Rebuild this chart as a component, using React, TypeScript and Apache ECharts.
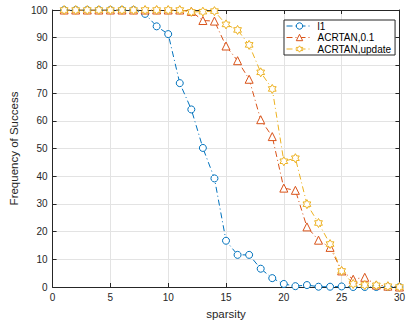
import React, { useEffect, useRef } from "react";
import * as echarts from "echarts";

const sparsity = Array.from({ length: 30 }, (_, i) => i + 1);
const l1 = [100, 100, 100, 100, 100, 100, 100, 98.6, 94.1, 91.3, 73.6, 64.1, 50.2, 39.2, 16.7, 11.6, 11.6, 6.6, 3.2, 1.1, 0.3, 0.7, 0.1, 0.1, 0.2, 0, 0, 0, 0, 0];
const acrtan01 = [100, 100, 100, 100, 100, 100, 100, 100, 100, 100, 100, 99.5, 96.2, 96.0, 87.0, 81.7, 75.0, 60.4, 54.3, 35.7, 34.9, 21.7, 16.9, 14.3, 5.8, 2.8, 3.5, 0.7, 0.3, 0];
const acrtanUpdate = [100, 100, 100, 100, 100, 100, 100, 100, 100, 100, 100, 99.3, 99.4, 99.6, 94.8, 92.8, 87.4, 77.5, 71.5, 45.4, 46.5, 29.9, 23.1, 15.5, 5.8, 1.1, 0.7, 0.6, 0.3, 0];
const xTicks = [0, 5, 10, 15, 20, 25, 30];
const yTicks = [0, 10, 20, 30, 40, 50, 60, 70, 80, 90, 100];

const seriesNames = ["l1", "ACRTAN,0.1", "ACRTAN,update"];
const colors = ["#0072BD", "#D95319", "#EDB120"];

const hexagram =
  "path://M10 0 L12.89 5 L18.66 5 L15.77 10 L18.66 15 L12.89 15 L10 20 L7.11 15 L1.34 15 L4.23 10 L1.34 5 L7.11 5 Z";

export default function App() {
  const ref = useRef<HTMLDivElement>(null);
  useEffect(() => {
    if (!ref.current) return;
    const chart = echarts.init(ref.current, null, { renderer: "svg" });
    const font = "Liberation Sans, Arial, Helvetica, sans-serif";
    const axisColor = "#262626";
    const mk = (name: string, data: number[], color: string, symbol: string, size: number) => ({
      name,
      type: "line",
      data: sparsity.map((x, i) => [x, data[i]]),
      symbol,
      symbolSize: size,
      symbolKeepAspect: true,
      showAllSymbol: true,
      lineStyle: { color, width: 1, type: [6, 3, 1, 3] },
      itemStyle: { color: "#ffffff", borderColor: color, borderWidth: 1 },
      emphasis: { disabled: true },
    });
    chart.setOption({
      animation: false,
      textStyle: { fontFamily: font },
      grid: { left: 50, right: 6, top: 10, bottom: 38, containLabel: false },
      legend: {
        show: true,
        orient: "vertical",
        left: 284,
        top: 20,
        itemWidth: 26,
        itemHeight: 8,
        itemGap: 1.5,
        padding: [1, 4, 1, 2],
        backgroundColor: "#ffffff",
        borderColor: "#262626",
        borderWidth: 1,
        itemStyle: { color: "#ffffff", borderWidth: 1 },
        lineStyle: { width: 1 },
        textStyle: { fontSize: 10, color: "#000000", fontFamily: font },
        data: seriesNames,
      },
      xAxis: [
        {
          type: "value",
          min: 0,
          max: 30,
          interval: 5,
          name: "sparsity",
          nameLocation: "middle",
          nameGap: 21,
          nameTextStyle: { fontSize: 11.5, color: axisColor },
          axisLine: { show: true, onZero: false, lineStyle: { color: axisColor, width: 1 } },
          axisTick: { show: true, inside: true, length: 4, lineStyle: { color: axisColor } },
          axisLabel: { fontSize: 10, color: axisColor, margin: 5, formatter: (v: number) => (xTicks.includes(v) ? String(v) : "") },
          splitLine: { show: true, lineStyle: { color: "#e3e3e3", width: 1 } },
        },
        {
          type: "value",
          position: "top",
          min: 0,
          max: 30,
          interval: 5,
          axisLine: { show: true, onZero: false, lineStyle: { color: axisColor, width: 1 } },
          axisTick: { show: true, inside: true, length: 4, lineStyle: { color: axisColor } },
          axisLabel: { show: false },
          splitLine: { show: false },
        },
      ],
      yAxis: [
        {
          type: "value",
          min: 0,
          max: 100,
          interval: 10,
          name: "Frequency of Success",
          nameLocation: "middle",
          nameGap: 26,
          nameTextStyle: { fontSize: 11.5, color: axisColor },
          axisLine: { show: true, onZero: false, lineStyle: { color: axisColor, width: 1 } },
          axisTick: { show: true, inside: true, length: 4, lineStyle: { color: axisColor } },
          axisLabel: { fontSize: 10, color: axisColor, margin: 5, formatter: (v: number) => (yTicks.includes(v) ? String(v) : "") },
          splitLine: { show: true, lineStyle: { color: "#e3e3e3", width: 1 } },
        },
        {
          type: "value",
          position: "right",
          min: 0,
          max: 100,
          interval: 10,
          axisLine: { show: true, onZero: false, lineStyle: { color: axisColor, width: 1 } },
          axisTick: { show: true, inside: true, length: 4, lineStyle: { color: axisColor } },
          axisLabel: { show: false },
          splitLine: { show: false },
        },
      ],
      series: [
        mk(seriesNames[0], l1, colors[0], "circle", 7),
        mk(seriesNames[1], acrtan01, colors[1], "triangle", 8),
        mk(seriesNames[2], acrtanUpdate, colors[2], hexagram, 9),
      ],
    });
    return () => chart.dispose();
  }, []);
  return <div ref={ref} style={{ position: "absolute", left: 0, top: 0, width: 408, height: 325 }} />;
}
